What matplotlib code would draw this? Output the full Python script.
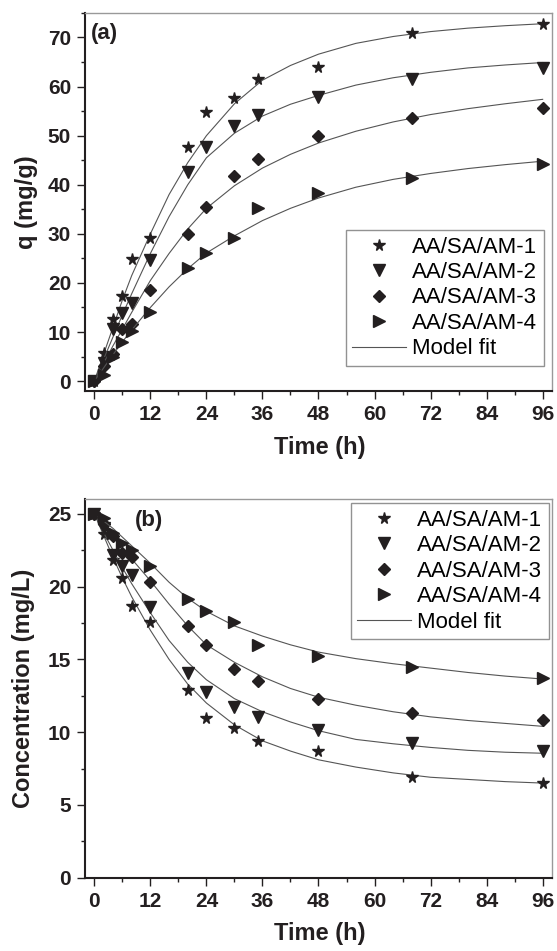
import matplotlib
matplotlib.use("Agg")
import matplotlib.pyplot as plt
from matplotlib.ticker import MultipleLocator

plt.rcParams['font.family'] = ['Liberation Sans', 'DejaVu Sans']

# measured data (time in h)
t_obs = [0, 2, 4, 6, 8, 12, 20, 24, 30, 35, 48, 68, 96]
labels = ["AA/SA/AM-1", "AA/SA/AM-2", "AA/SA/AM-3", "AA/SA/AM-4"]
markers = ["*", "v", "D", ">"]
msizes = [8.5, 8, 6.3, 8]

# (a) adsorption capacity q (mg/g)
q1 = [0, 5.7, 12.7, 17.3, 24.9, 29.2, 47.7, 54.9, 57.6, 61.5, 64.0, 71.0, 72.8]
q2 = [0, 3.7, 10.6, 13.9, 16.0, 24.7, 42.7, 47.7, 51.9, 54.2, 57.9, 61.5, 63.7]
q3 = [0, 3.1, 5.6, 10.7, 11.7, 18.5, 29.9, 35.5, 41.8, 45.2, 49.9, 53.7, 55.7]
q4 = [0, 1.3, 4.9, 7.9, 10.2, 14.0, 23.0, 26.2, 29.1, 35.2, 38.4, 41.3, 44.3]

# (b) concentration (mg/L)
c1 = [25.0, 23.6, 21.8, 20.6, 18.7, 17.6, 12.9, 11.0, 10.3, 9.4, 8.67, 6.95, 6.49]
c2 = [25.0, 24.0, 22.2, 21.4, 20.8, 18.6, 14.06, 12.75, 11.7, 11.07, 10.16, 9.24, 8.67]
c3 = [25.0, 24.3, 23.5, 22.3, 22.0, 20.3, 17.3, 15.96, 14.35, 13.48, 12.29, 11.3, 10.8]
c4 = [25.0, 24.7, 23.7, 23.0, 22.5, 21.4, 19.15, 18.3, 17.56, 16.0, 15.25, 14.47, 13.71]

# model fit curves
t_fit = [0, 2, 4, 6, 8, 12, 16, 20, 24, 30, 36, 42, 48, 56, 64, 72, 80, 88, 96]
qf1 = [0, 5.5, 11, 16.5, 21.5, 30, 38, 44.5, 50, 56.5, 61.3, 64.3, 66.6, 68.8, 70.2, 71.2, 71.9, 72.4, 72.8]
qf2 = [0, 4.5, 9, 13.5, 17.8, 26, 33.5, 40, 45.5, 50.5, 54.0, 56.4, 58.2, 60.3, 61.8, 62.9, 63.8, 64.4, 64.9]
qf3 = [0, 3.7, 7.2, 10.6, 14, 20.5, 26, 31, 35.2, 39.8, 43.4, 46.2, 48.5, 50.9, 52.8, 54.3, 55.5, 56.5, 57.4]
qf4 = [0, 2.7, 5.4, 8, 10.4, 15, 19.2, 22.9, 26.1, 29.6, 32.7, 35.2, 37.3, 39.5, 41.1, 42.3, 43.3, 44.1, 44.8]

cf1 = [25, 23.5, 22.0, 20.6, 19.3, 17.0, 15.0, 13.3, 12.0, 10.5, 9.4, 8.7, 8.1, 7.6, 7.2, 6.9, 6.75, 6.6, 6.5]
cf2 = [25, 23.7, 22.5, 21.3, 20.2, 18.2, 16.3, 14.8, 13.6, 12.3, 11.4, 10.7, 10.1, 9.5, 9.2, 8.95, 8.75, 8.62, 8.55]
cf3 = [25, 24.3, 23.5, 22.7, 21.9, 20.4, 18.8, 17.3, 16.0, 14.8, 13.8, 13.0, 12.4, 11.85, 11.4, 11.05, 10.8, 10.6, 10.4]
cf4 = [25, 24.5, 24.0, 23.4, 22.8, 21.6, 20.3, 19.2, 18.3, 17.3, 16.6, 16.0, 15.5, 15.05, 14.7, 14.4, 14.1, 13.85, 13.65]

dark = "#231f20"
fitc = "#555555"

fig = plt.figure(figsize=(5.57, 9.51), dpi=100)
ax1 = fig.add_axes([0.1526, 0.5889, 0.8384, 0.3975])
ax2 = fig.add_axes([0.1526, 0.0771, 0.8384, 0.3979])


def style(ax, ylab, ymaj, ymin):
    ax.xaxis.set_major_locator(MultipleLocator(12))
    ax.xaxis.set_minor_locator(MultipleLocator(6))
    ax.yaxis.set_major_locator(MultipleLocator(ymaj))
    ax.yaxis.set_minor_locator(MultipleLocator(ymin))
    ax.tick_params(which="both", direction="out", top=False, right=False,
                   width=1.0, color=dark)
    ax.tick_params(which="major", length=6, labelsize=15, pad=4)
    ax.tick_params(which="minor", length=3)
    for lab in ax.get_xticklabels() + ax.get_yticklabels():
        lab.set_fontweight("bold")
        lab.set_color(dark)
    for s in ["left", "bottom"]:
        ax.spines[s].set_linewidth(1.5)
        ax.spines[s].set_color(dark)
    for s in ["top", "right"]:
        ax.spines[s].set_linewidth(1.0)
        ax.spines[s].set_color("#999999")
    ax.set_xlabel("Time (h)", fontsize=17, fontweight="bold", color=dark)
    ax.set_ylabel(ylab, fontsize=17, fontweight="bold", color=dark)


# panel (a)
for q, qf, lab, m, ms in zip([q1, q2, q3, q4], [qf1, qf2, qf3, qf4], labels, markers, msizes):
    ax1.plot(t_fit, qf, color=fitc, lw=0.8)
    ax1.plot(t_obs, q, ls="none", marker=m, ms=ms, color=dark, label=lab)
ax1.plot([], [], color=fitc, lw=0.8, label="Model fit")
ax1.set_xlim(-2, 98)
ax1.set_ylim(-2, 75)
style(ax1, "q (mg/g)", 10, 5)
ax1.xaxis.set_label_coords(0.503, -0.118)
ax1.yaxis.set_label_coords(-0.10, 0.5)
ax1.text(0.012, 0.945, "(a)", transform=ax1.transAxes, fontsize=16,
         fontweight="bold", color=dark, va="center", ha="left")
leg1 = ax1.legend(loc="upper right", bbox_to_anchor=(0.983, 0.426), borderaxespad=0,
                  fontsize=16, frameon=True, fancybox=False, handlelength=2.4,
                  handletextpad=0.3, labelspacing=0.2, borderpad=0.3)
leg1.get_frame().set_edgecolor("#777777")
leg1.get_frame().set_linewidth(1.0)

# panel (b)
for c, cf, lab, m, ms in zip([c1, c2, c3, c4], [cf1, cf2, cf3, cf4], labels, markers, msizes):
    ax2.plot(t_fit, cf, color=fitc, lw=0.8)
    ax2.plot(t_obs, c, ls="none", marker=m, ms=ms, color=dark, label=lab)
ax2.plot([], [], color=fitc, lw=0.8, label="Model fit")
ax2.set_xlim(-2, 98)
ax2.set_ylim(0, 26)
style(ax2, "Concentration (mg/L)", 5, 2.5)
ax2.xaxis.set_label_coords(0.503, -0.118)
ax2.yaxis.set_label_coords(-0.107, 0.5)
ax2.text(0.107, 0.945, "(b)", transform=ax2.transAxes, fontsize=16,
         fontweight="bold", color=dark, va="center", ha="left")
leg2 = ax2.legend(loc="upper right", bbox_to_anchor=(0.9936, 0.99), borderaxespad=0,
                  fontsize=16, frameon=True, fancybox=False, handlelength=2.4,
                  handletextpad=0.3, labelspacing=0.2, borderpad=0.3)
leg2.get_frame().set_edgecolor("#777777")
leg2.get_frame().set_linewidth(1.0)

fig.savefig("out.png", dpi=100)
